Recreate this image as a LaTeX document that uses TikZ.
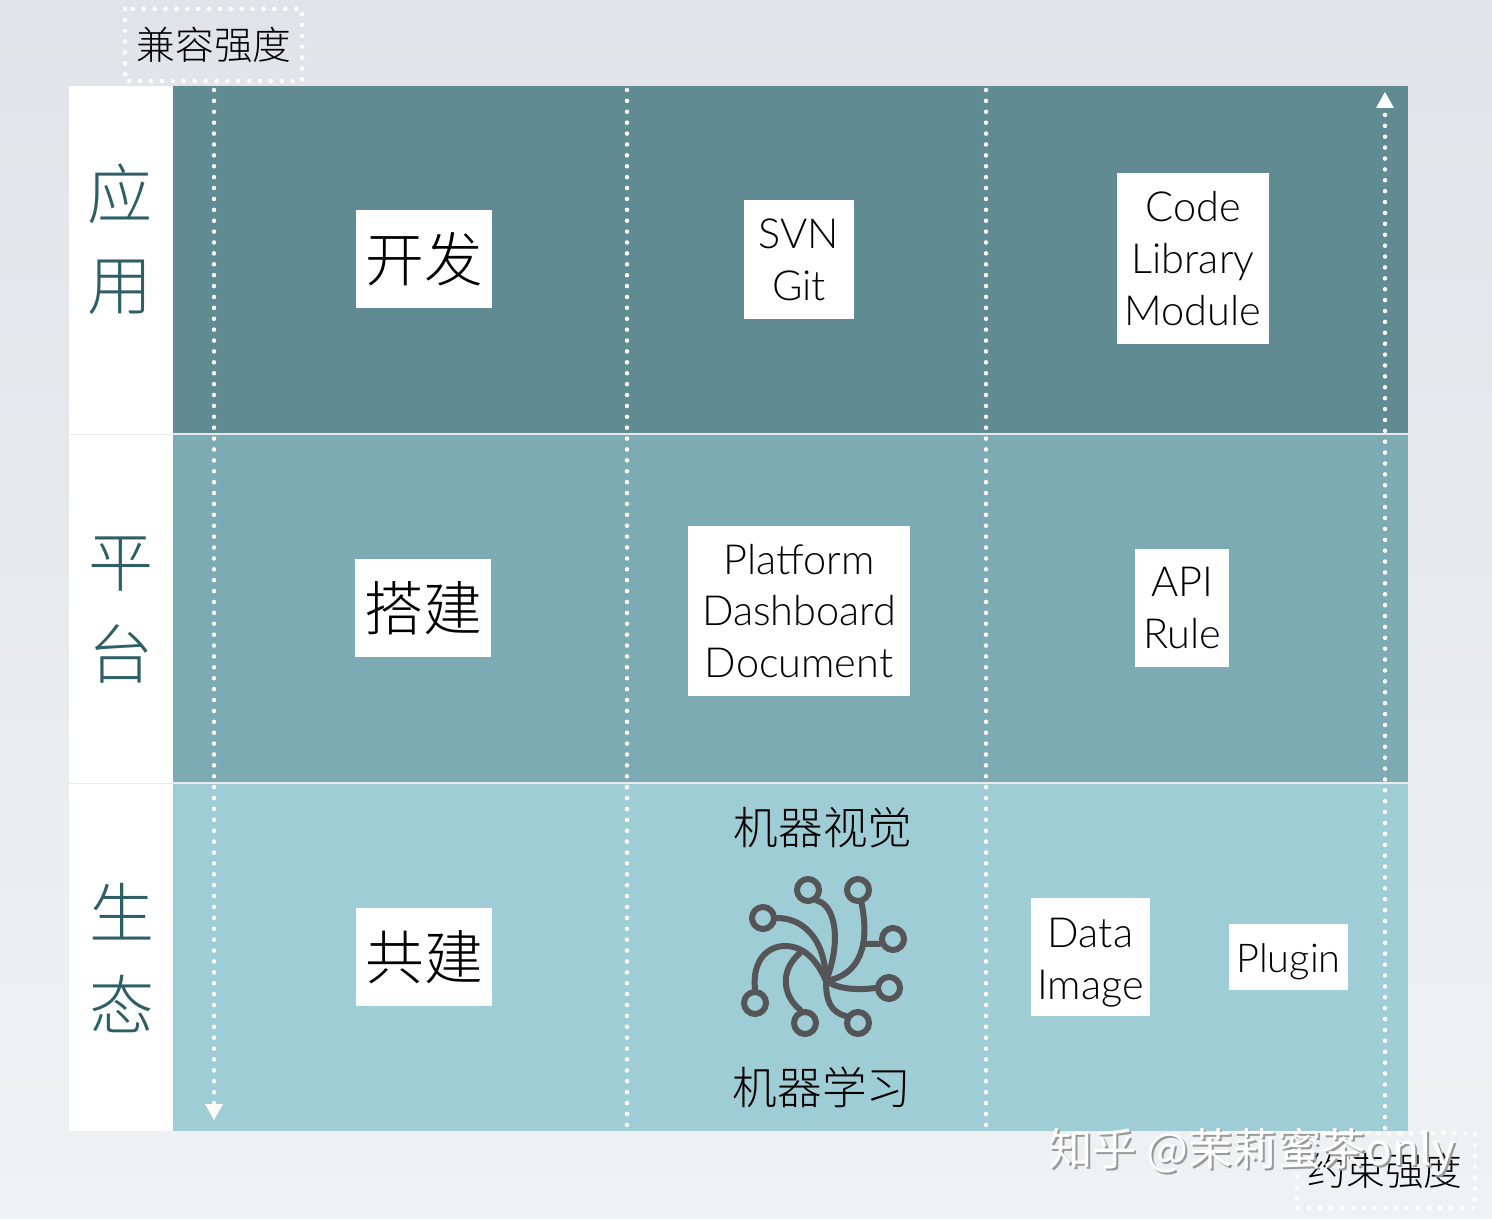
\documentclass[tikz,border=0pt]{standalone}
\usepackage{fontspec}
\setmainfont{Lato Light}
\newfontfamily\cjkfont{Noto Sans CJK SC Light}
\newfontfamily\markfont{Noto Sans CJK SC}
\usetikzlibrary{positioning, arrows.meta}
\definecolor{cApp}{HTML}{608B93}
\definecolor{cPlat}{HTML}{7CABB3}
\definecolor{cEco}{HTML}{9FCDD6}
\definecolor{cSide}{HTML}{2F5F66}
\definecolor{cIcon}{HTML}{555557}
\definecolor{cBgTop}{HTML}{E0E4E8}
\definecolor{cBgEnd}{HTML}{F0F1F3}
\tikzset{
  cellbox/.style={
    fill=white,
    inner sep=0pt,
    text=black,
    align=center,
    font=\fontsize{23.6}{29.5}\selectfont
  },
  celltext/.style={
    inner sep=0pt,
    text=black,
    align=center,
    font=\fontsize{23.6}{29.5}\selectfont
  },
  cjkbox/.style={
    cellbox,
    minimum width=2.72cm,
    minimum height=1.96cm,
    font=\fontsize{33.4}{40}\selectfont\cjkfont
  },
  rowlabel/.style={
    align=center,
    text=cSide,
    inner sep=0pt,
    font=\fontsize{37}{52}\selectfont\cjkfont
  },
  captext/.style={
    inner sep=0pt,
    text=black,
    font=\fontsize{25.4}{30}\selectfont\cjkfont
  },
  axistext/.style={
    inner sep=0pt,
    text=black,
    font=\fontsize{22}{26}\selectfont\cjkfont
  },
  marktext/.style={
    inner sep=0pt,
    font=\fontsize{25.2}{30}\selectfont\markfont
  },
  dotline/.style={
    draw=white,
    line width=0.09cm,
    line cap=round,
    dash pattern=on 0pt off 6.2pt
  },
  dotarrow/.style={
    dotline,
    -{Triangle[length=0.32cm,width=0.36cm,fill=white,line width=0pt]}
  },
  ring/.style={
    circle,
    draw=cIcon,
    line width=0.12cm,
    minimum size=0.44cm,
    inner sep=0pt
  },
  iconline/.style={
    draw=cIcon,
    line width=0.12cm,
    line cap=round
  }
}
\begin{document}
\begin{tikzpicture}[x=0.02cm,y=-0.02cm]
  \useasboundingbox (0,0) rectangle (1492,1219);
  \shade[top color=cBgTop, bottom color=cBgEnd] (0,0) rectangle (1492,1219);

  % left column and bands
  \fill[white] (69,86) rectangle (173,1131);
  \draw[black!8] (69,434) -- (173,434);
  \draw[black!8] (69,783) -- (173,783);
  \fill[cApp] (173,86) rectangle (1408,433);
  \fill[cPlat] (173,435) rectangle (1408,782);
  \fill[cEco] (173,784) rectangle (1408,1131);

  \node[rowlabel] (sideApp) at (120,239) {应\\用};
  \node[rowlabel] (sidePlat) at (121,610) {平\\台};
  \node[rowlabel] (sideEco) at (122,958) {生\\态};

  % dotted axes
  \coordinate (axisInTop) at (214,90);
  \coordinate (axisInEnd) at (214,1120);
  \coordinate (axisOutTop) at (1385,92);
  \coordinate (axisOutEnd) at (1385,1128);
  \draw[dotarrow] (axisInTop) -- (axisInEnd);
  \draw[dotarrow] (axisOutEnd) -- (axisOutTop);
  \coordinate (sepATop) at (627,90);
  \coordinate (sepAEnd) at (627,1130);
  \coordinate (sepBTop) at (986,90);
  \coordinate (sepBEnd) at (986,1130);
  \draw[dotline] (sepATop) -- (sepAEnd);
  \draw[dotline] (sepBTop) -- (sepBEnd);
  \draw[dotline] (125,9) rectangle (302,81);
  \draw[dotline] (1297,1133) rectangle (1475,1208);

  % cells
  \node[cjkbox] (dev) at (424,259) {开发};
  \node[cellbox, minimum width=2.2cm, minimum height=2.38cm] (svn) at (799,259.5) {SVN\\Git};
  \node[cellbox, minimum width=3.04cm, minimum height=3.42cm] (code) at (1193,258.5) {Code\\Library\\Module};
  \node[cjkbox] (build) at (423,608) {搭建};
  \node[cellbox, minimum width=4.44cm, minimum height=3.4cm] (plat) at (799,611) {Platform\\Dashboard\\Document};
  \node[cellbox, minimum width=1.88cm, minimum height=2.36cm] (api) at (1182,608) {API\\Rule};
  \node[cjkbox] (co) at (424,957) {共建};
  \node[cellbox, minimum width=2.38cm, minimum height=2.36cm] (data) at (1090.5,957) {};
  \node[celltext] (dataText) at (1090.5,963) {Data\\Image};
  \node[cellbox, minimum width=2.38cm, minimum height=1.32cm] (plugin) at (1288.5,957) {};
  \node[celltext, font=\fontsize{22.6}{29.5}\selectfont] (pluginText) at (1288.5,962) {Plugin};

  % icon
  \node[captext] (vision) at (823,828) {机器视觉};
  \node[captext] (learn) at (822,1087) {机器学习};
  \coordinate (hub) at (826,981);
  \coordinate (join) at (800,953);
  \node[ring] (ringA) at (808,890) {};
  \node[ring] (ringB) at (858,890) {};
  \node[ring] (ringC) at (763,918) {};
  \node[ring] (ringD) at (893,939) {};
  \node[ring] (ringE) at (889,988) {};
  \node[ring] (ringF) at (805,1023) {};
  \node[ring] (ringG) at (755,1003) {};
  \node[ring] (ringH) at (858,1023) {};
  \draw[iconline] (ringA.-50) .. controls (835,905) and (842,940) .. (hub);
  \draw[iconline] (ringB.-75) .. controls (870,945) and (860,975) .. (hub);
  \draw[iconline] (ringC.east) .. controls (800,918) and (825,935) .. (hub);
  \draw[iconline] (ringD.200) -- (866,944);
  \draw[iconline] (ringE.west) .. controls (860,990) and (840,990) .. (hub);
  \draw[iconline] (ringF.110) .. controls (782,995) and (780,970) .. (join);
  \draw[iconline] (ringG.north) .. controls (752,960) and (768,946) .. (785,946) .. controls (805,946) and (818,962) .. (hub);
  \draw[iconline] (ringH.150) .. controls (830,1012) and (826,1000) .. (hub);

  % axis captions
  \node[axistext] (compat) at (214,45) {兼容强度};
  \node[axistext] (constr) at (1385,1171) {约束强度};

  % watermark
  \node[marktext, text=black!40, anchor=west] (markShade) at (1050,1154) {知乎 @茉莉蜜茶only};
  \node[marktext, text=white, anchor=west] (mark) at (1048,1152) {知乎 @茉莉蜜茶only};
\end{tikzpicture}
\end{document}
